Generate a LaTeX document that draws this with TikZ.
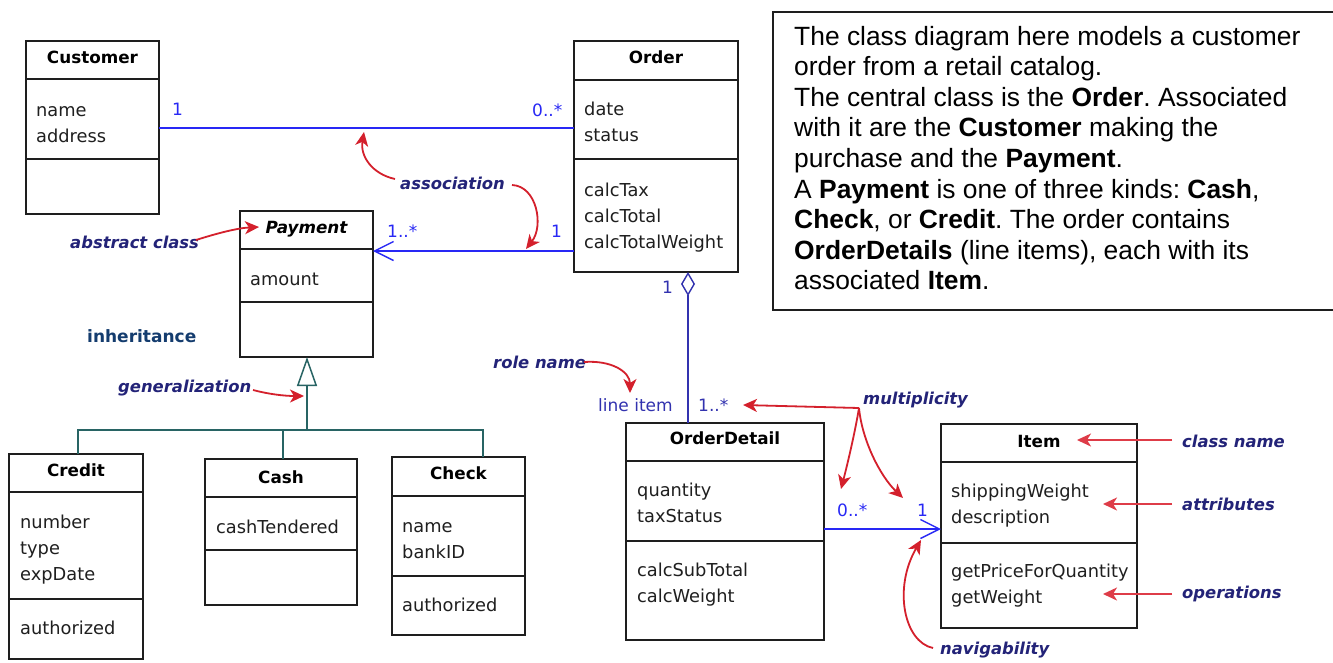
\documentclass[tikz,border=0pt]{standalone}
\usepackage{fontspec}
\setmainfont{DejaVu Sans}
\newfontfamily\notefont{Liberation Sans}
\usetikzlibrary{arrows.meta}
\frenchspacing
\definecolor{boxcol}{RGB}{30,30,30}
\definecolor{lblcol}{RGB}{35,35,120}
\definecolor{redc}{RGB}{212,32,44}
\definecolor{redl}{RGB}{222,60,72}
\definecolor{bluec}{RGB}{40,40,245}
\definecolor{aggc}{RGB}{50,50,175}
\definecolor{tealc}{RGB}{40,100,100}
\definecolor{inhc}{RGB}{20,60,110}
\newcommand\umlbox[7]{%
  \node[classbox, minimum width=#4pt, minimum height=#5pt] (#1) at (#2,#3) {};
  \draw[boxline] (#2,#6) -- ++(#4,0);
  \draw[boxline] (#2,#7) -- ++(#4,0);
}
\begin{document}
\begin{tikzpicture}[x=1pt,y=-1pt,
  classbox/.style={draw=boxcol, line width=1.3pt, anchor=north west, inner sep=0pt, outer sep=0pt},
  boxline/.style={draw=boxcol, line width=1.3pt},
  attr/.style={anchor=base west, inner sep=0pt, font=\fontsize{17.8}{20}\selectfont, text=black!88},
  ttl/.style={anchor=base, inner sep=0pt, font=\fontsize{16.8}{20}\selectfont\bfseries},
  mult/.style={anchor=base west, inner sep=0pt, font=\fontsize{17}{20}\selectfont, text=bluec},
  multd/.style={anchor=base west, inner sep=0pt, font=\fontsize{17}{20}\selectfont, text=aggc},
  lbl/.style={anchor=base west, inner sep=0pt, font=\fontsize{16.4}{20}\selectfont\bfseries\itshape, text=lblcol},
  note/.style={anchor=base west, inner sep=0pt, font=\notefont\fontsize{26.4}{30}\selectfont\frenchspacing},
  assoc/.style={draw=bluec, line width=1.4pt},
  agg/.style={draw=aggc, line width=1.4pt},
  gen/.style={draw=tealc, line width=1.5pt},
  redarrow/.style={draw=redc, line width=1.8pt, -{Stealth[length=14pt,width=13pt,inset=4pt]}},
  redarrowl/.style={draw=redl, line width=1.8pt, -{Stealth[length=14pt,width=13pt,inset=4pt]}},
  barb/.style={-{Straight Barb[length=19pt,width=19pt]}}
]
\useasboundingbox (0,0) rectangle (1333,662);
\fill[white] (0,0) rectangle (1333,662);

% ---------- class boxes ----------
\umlbox{customer}{26}{41}{133}{173}{79}{159}
\umlbox{order}{574}{41}{164}{231}{80}{159}
\umlbox{payment}{240}{211}{133}{146}{249}{302}
\umlbox{credit}{9}{454}{134}{205}{492}{599}
\umlbox{cash}{205}{459}{152}{146}{497}{550}
\umlbox{check}{392}{457}{133}{178}{496}{576}
\umlbox{orderdetail}{626}{423}{198}{217}{461}{541}
\umlbox{item}{941}{424}{196}{204}{462}{543}

% ---------- titles ----------
\node[ttl] (customer-t) at (92.5,63) {Customer};
\node[ttl] (order-t) at (656,63) {Order};
\node[ttl, font=\fontsize{16.8}{20}\selectfont\bfseries\itshape] (payment-t) at (306.5,233) {Payment};
\node[ttl] (credit-t) at (76,476) {Credit};
\node[ttl] (cash-t) at (281,483) {Cash};
\node[ttl] (check-t) at (458.5,479) {Check};
\node[ttl] (orderdetail-t) at (725,444) {OrderDetail};
\node[ttl] (item-t) at (1039,447) {Item};

% ---------- attributes / operations ----------
\node[attr] (cu1) at (36,116) {name};
\node[attr] (cu2) at (36,142) {address};
\node[attr] (or1) at (584,115) {date};
\node[attr] (or2) at (584,141) {status};
\node[attr] (or3) at (584,196) {calcTax};
\node[attr] (or4) at (584,222) {calcTotal};
\node[attr] (or5) at (584,248) {calcTotalWeight};
\node[attr] (pa1) at (250,285) {amount};
\node[attr] (cr1) at (20,528) {number};
\node[attr] (cr2) at (20,554) {type};
\node[attr] (cr3) at (20,580) {expDate};
\node[attr] (cr4) at (20,634) {authorized};
\node[attr] (ca1) at (216,533) {cashTendered};
\node[attr] (ch1) at (402,532) {name};
\node[attr] (ch2) at (402,558) {bankID};
\node[attr] (ch3) at (402,611) {authorized};
\node[attr] (od1) at (637,496) {quantity};
\node[attr] (od2) at (637,522) {taxStatus};
\node[attr] (od3) at (637,576) {calcSubTotal};
\node[attr] (od4) at (637,602) {calcWeight};
\node[attr] (it1) at (951,497) {shippingWeight};
\node[attr] (it2) at (951,523) {description};
\node[attr] (it3) at (951,577) {getPriceForQuantity};
\node[attr] (it4) at (951,603) {getWeight};

% ---------- connectors ----------
\coordinate (cust-r) at (159,128);
\coordinate (ord-l1) at (574,128);
\draw[assoc] (cust-r) -- (ord-l1);
\coordinate (ord-l2) at (574,251);
\coordinate (pay-r) at (373,251);
\draw[assoc, barb] (ord-l2) -- (pay-r);
\coordinate (ord-b) at (688,272);
\coordinate (od-t) at (688,423);
\draw[agg, -{Diamond[open,length=24pt,width=14pt]}] (od-t) -- (ord-b);
\coordinate (od-r) at (824,529);
\coordinate (item-l) at (941,529);
\draw[assoc, barb] (od-r) -- (item-l);
\coordinate (pay-b) at (307,357);
\coordinate (gj) at (307,430);
\coordinate (cred-top) at (78,454);
\coordinate (cash-top) at (283,459);
\coordinate (chk-top) at (483,457);
\draw[gen, -{Triangle[open,length=29pt,width=20pt]}] (gj) -- (pay-b);
\draw[gen] (cred-top) |- (gj) -| (chk-top);
\draw[gen] (cash-top) -- (cash-top |- gj);

% ---------- multiplicities / role ----------
\node[mult] (m1) at (172,115) {1};
\node[mult] (m2) at (532,116) {0..*};
\node[mult] (m3) at (387,237) {1..*};
\node[mult] (m4) at (551,237) {1};
\node[multd] (m5) at (662,293) {1};
\node[multd] (role) at (598,411) {line item};
\node[multd] (m6) at (698,411) {1..*};
\node[mult] (m7) at (837,516) {0..*};
\node[mult] (m8) at (917,516) {1};

% ---------- annotation labels ----------
\node[lbl] (l-assoc) at (400,189) {association};
\node[lbl] (l-abs) at (70,248) {abstract class};
\node[anchor=base west, inner sep=0pt, font=\fontsize{17}{20}\selectfont\bfseries, text=inhc] (l-inh) at (87,342) {inheritance};
\node[lbl] (l-gen) at (118,392) {generalization};
\node[lbl] (l-role) at (493,368) {role name};
\node[lbl] (l-mult) at (863,404) {multiplicity};
\node[lbl] (l-cls) at (1182,447) {class name};
\node[lbl] (l-att) at (1182,510) {attributes};
\node[lbl] (l-ops) at (1182,598) {operations};
\node[lbl] (l-nav) at (940,654) {navigability};

% ---------- red arrows ----------
\coordinate (a1s) at (395,179);
\coordinate (a1e) at (364,132);
\draw[redarrow] (a1s) .. controls (372,174) and (360,156) .. (a1e);
\coordinate (a2s) at (512,185);
\coordinate (a2e) at (526,249);
\draw[redarrow] (a2s) .. controls (537,186) and (544,226) .. (a2e);
\coordinate (a3s) at (196,240);
\coordinate (a3e) at (259,227);
\draw[redarrow] (a3s) .. controls (218,233) and (238,228) .. (a3e);
\coordinate (a4s) at (253,390);
\coordinate (a4e) at (304,396);
\draw[redarrow] (a4s) .. controls (268,394) and (284,396) .. (a4e);
\coordinate (a5s) at (584,362);
\coordinate (a5e) at (630,393);
\draw[redarrow] (a5s) .. controls (612,360) and (630,372) .. (a5e);
\coordinate (mj) at (859,408);
\coordinate (a6e) at (743,405);
\coordinate (a7e) at (841,489);
\coordinate (a8e) at (903,498);
\draw[redarrow] (mj) -- (a6e);
\draw[redarrow] (mj) .. controls (855,432) and (848,462) .. (a7e);
\draw[redarrow] (mj) .. controls (862,440) and (880,476) .. (a8e);
\coordinate (a9s) at (933,648);
\coordinate (a9e) at (921,540);
\draw[redarrow] (a9s) .. controls (904,642) and (893,588) .. (a9e);
\coordinate (a10s) at (1172,440);
\coordinate (a10e) at (1077,440);
\draw[redarrowl] (a10s) -- (a10e);
\coordinate (a11s) at (1172,504);
\coordinate (a11e) at (1103,504);
\draw[redarrowl] (a11s) -- (a11e);
\coordinate (a12s) at (1172,594);
\coordinate (a12e) at (1103,594);
\draw[redarrowl] (a12s) -- (a12e);

% ---------- note box ----------
\draw[line width=1.3pt, draw=boxcol] (1334,12) -- (773,12) -- (773,310) -- (1334,310);
\node[note] (n1) at (794,45) {The class diagram here models a customer};
\node[note] (n2) at (794,75.6) {order from a retail catalog.};
\node[note] (n3) at (794,106.2) {The central class is the \textbf{Order}. Associated};
\node[note] (n4) at (794,136.8) {with it are the \textbf{Customer} making the};
\node[note] (n5) at (794,167.4) {purchase and the \textbf{Payment}.};
\node[note] (n6) at (794,198) {A \textbf{Payment} is one of three kinds: \textbf{Cash},};
\node[note] (n7) at (794,228.6) {\textbf{Check}, or \textbf{Credit}. The order contains};
\node[note] (n8) at (794,259.2) {\textbf{OrderDetails} (line items), each with its};
\node[note] (n9) at (794,289.8) {associated \textbf{Item}.};
\end{tikzpicture}
\end{document}
